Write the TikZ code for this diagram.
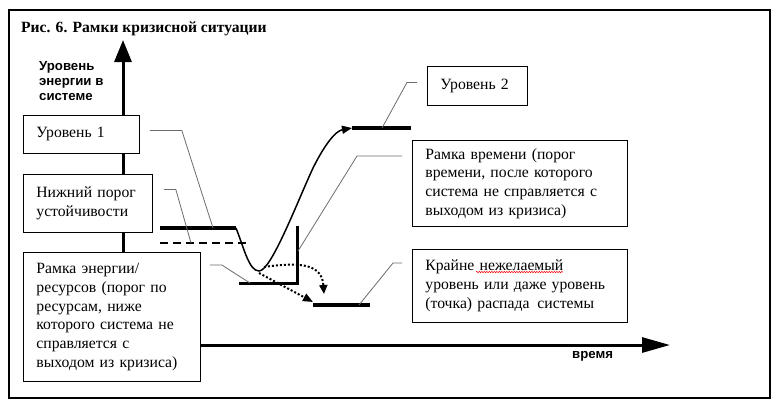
\documentclass[tikz,border=0pt]{standalone}
\usepackage{fontspec}
\setmainfont{Liberation Serif}
\setsansfont{Liberation Sans}
\usetikzlibrary{arrows.meta, positioning, decorations.pathmorphing}

\tikzset{
  txtbox/.style={draw, fill=white, line width=0.8bp, inner xsep=13bp, inner ysep=0pt,
    align=left, anchor=north west, font=\fontsize{15.7bp}{18.7bp}\selectfont},
  levline/.style={line width=3.5bp},
  leader/.style={draw=gray!85!black, line width=0.8bp},
  dotline/.style={line width=2bp, dash pattern=on 2bp off 2bp},
  axislabel/.style={font=\sffamily\bfseries\fontsize{13.2bp}{15bp}\selectfont, inner sep=0pt}
}

\begin{document}
\begin{tikzpicture}[x=1bp, y=-1bp, >=Stealth]
  \useasboundingbox (0,0) rectangle (782,408);
  % Outer frame
  \draw[line width=1.5bp] (9,10) rectangle (770,398);
  \node[anchor=base west, inner sep=0pt, font=\bfseries\fontsize{15.6bp}{19bp}\selectfont] (title) at (21,32)
    {Рис. 6. Рамки кризисной ситуации};

  % Axes
  \coordinate (origin) at (123,345);
  \coordinate (ytip) at (123,40);
  \coordinate (xtip) at (670,345);
  \draw[line width=3bp, -{Triangle[length=22bp,width=17bp]}] (origin) -- (ytip);
  \draw[line width=3bp, -{Triangle[length=28bp,width=15bp]}] (origin) -- (xtip);
  \node[axislabel, anchor=north west, align=left] (ylab) at (39,61) {Уровень\\энергии в\\системе};
  \node[axislabel, anchor=base west] (xlab) at (572,358) {время};

  % Levels
  \draw[levline] (160,228) -- (236,228);
  \draw[line width=2bp, dash pattern=on 8bp off 5bp] (160,243) -- (248,243);
  \draw[levline] (352,128) -- (411,128);
  \draw[levline] (313,305) -- (370,305);
  % Time / resource frame
  \draw[line width=3bp] (239,283) -- (297,283) -- (297,226);

  % Crisis curve
  \draw[line width=1.5bp, -{Triangle[length=10bp,width=8bp]}] (236,228)
    .. controls (244,248) and (249,271) .. (259,271)
    .. controls (271,271) and (296,205) .. (313,168)
    .. controls (324,146) and (335,131) .. (352,128);

  % Dotted outcomes
  \draw[dotline, -{Triangle[length=9bp,width=8bp]}] (264,267)
    .. controls (305,261) and (322,266) .. (324,294);
  \draw[dotline, -{Triangle[length=10bp,width=8bp]}] (259,273) -- (313,302);

  % Boxes
  \node[txtbox, text width=90bp, minimum height=38bp] (lev1) at (23,115) {Уровень 1};
  \node[txtbox, text width=103bp, minimum height=58bp] (nizh) at (23,174) {Нижний порог\\устойчивости};
  \node[txtbox, text width=151bp, minimum height=129bp] (ramE) at (23,252)
    {Рамка энергии/\\ресурсов (порог по\\ресурсам, ниже\\которого система не\\справляется с\\выходом из кризиса)};
  \node[txtbox, text width=74bp, minimum height=39bp] (lev2) at (427,66) {Уровень 2};
  \node[txtbox, text width=189bp, minimum height=86bp] (ramT) at (412,140)
    {Рамка времени (порог\\времени, после которого\\система не справляется с\\выходом из кризиса)};
  \node[txtbox, text width=189bp, minimum height=73bp] (kraj) at (412,249)
    {Крайне нежелаемый\\уровень или даже уровень\\(точка) распада\, системы};
  % spell-check mark
  \draw[red, line width=0.5bp, decorate, decoration={snake, amplitude=0.7bp, segment length=2.5bp}]
    (476,272) -- (563,272);

  % Leader ends
  \coordinate (l1end) at (213,228);
  \coordinate (nizhend) at (191,243);
  \coordinate (ramEend) at (250,283);
  \coordinate (l2end) at (382,128);
  \coordinate (ramTend) at (298,251);
  \coordinate (krajend) at (359,305);

  % Leaders
  \draw[leader] ([xshift=10bp,yshift=4bp]lev1.east) -- ++(32,0) -- (l1end);
  \draw[leader] ([xshift=11bp,yshift=14bp]nizh.east) -- ++(12,0) -- (nizhend);
  \draw[leader] ([xshift=9bp,yshift=-13bp]ramE.north east) -- ++(12,0) -- (ramEend);
  \draw[leader] ([xshift=-10bp,yshift=3.5bp]lev2.west) -- ++(-10,0) -- (l2end);
  \draw[leader] ([xshift=-10bp,yshift=-16bp]ramT.north west) -- ++(-45,0) -- (ramTend);
  \draw[leader] ([xshift=-10bp,yshift=-14bp]kraj.north west) -- ++(-9,0) -- (krajend);
\end{tikzpicture}
\end{document}
